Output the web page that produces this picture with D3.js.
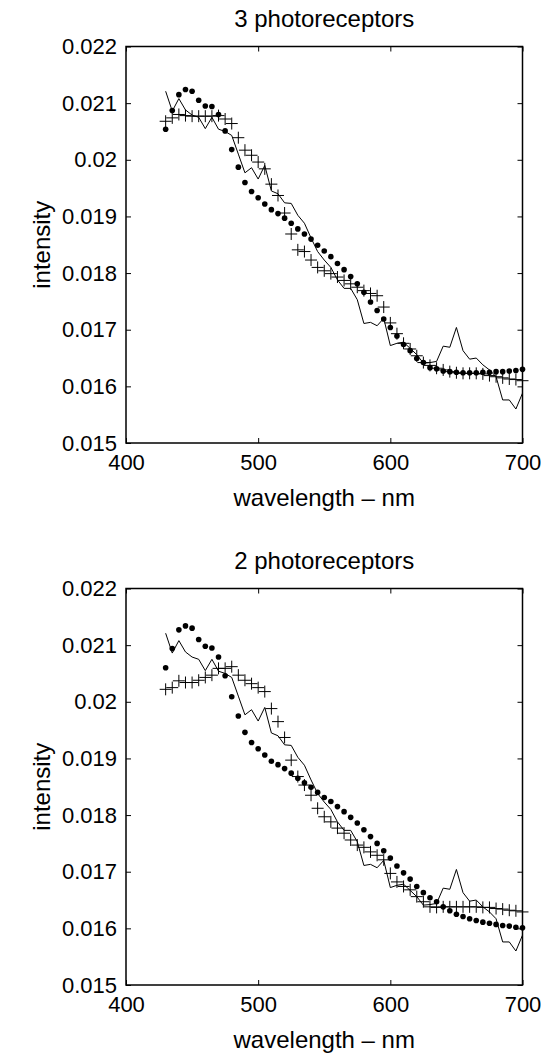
<!DOCTYPE html>
<html>
<head>
<meta charset="utf-8">
<script src="https://cdn.jsdelivr.net/npm/d3@7"></script>
<style>
  body { margin: 0; background: #fff; }
  svg text { font-family: "Liberation Sans", Arial, Helvetica, sans-serif; fill: #000; }
</style>
</head>
<body>
<div id="chart"></div>
<script>
// wavelength samples (nm)
const wavelengths = [430, 435, 440, 445, 450, 455, 460, 465, 470, 475,
  480, 485, 490, 495, 500, 505, 510, 515, 520, 525,
  530, 535, 540, 545, 550, 555, 560, 565, 570, 575,
  580, 585, 590, 595, 600, 605, 610, 615, 620, 625,
  630, 635, 640, 645, 650, 655, 660, 665, 670, 675,
  680, 685, 690, 695, 700];

// solid line: measured spectrum (same in both panels)
const measured = [0.02121, 0.02086, 0.02108, 0.02088, 0.02079, 0.02075, 0.02055, 0.02075, 0.02054, 0.0205,
  0.02043, 0.0201, 0.01977, 0.01986, 0.01966, 0.0199, 0.01945, 0.0194, 0.01924, 0.01923,
  0.01902, 0.01888, 0.01862, 0.01838, 0.01823, 0.0181, 0.01788, 0.01773, 0.01773, 0.01753,
  0.01711, 0.01713, 0.01707, 0.0172, 0.01672, 0.01676, 0.01678, 0.01667, 0.01656, 0.01641,
  0.01642, 0.01644, 0.01671, 0.01669, 0.01704, 0.01663, 0.01648, 0.0165, 0.01638, 0.01629,
  0.01617, 0.01576, 0.01576, 0.0156, 0.01588];

// 3 photoreceptors
const dots3 = [0.02054, 0.02087, 0.02115, 0.02124, 0.02121, 0.02105, 0.02095, 0.02094, 0.0208, 0.02051,
  0.02018, 0.01987, 0.0196, 0.01944, 0.01933, 0.01922, 0.01912, 0.01905, 0.01897, 0.01888,
  0.01878, 0.01869, 0.0186, 0.01849, 0.01839, 0.01829, 0.01817, 0.01806, 0.01794, 0.01781,
  0.01766, 0.01749, 0.01734, 0.01719, 0.01704, 0.01689, 0.01674, 0.01663, 0.01649, 0.01642,
  0.01633, 0.01631, 0.01627, 0.01626, 0.01625, 0.01624, 0.01624, 0.01624, 0.01625, 0.01625,
  0.01626, 0.01626, 0.01627, 0.01628, 0.0163];
const plus3 = [0.02068, 0.02074, 0.0208, 0.02078, 0.02077, 0.02077, 0.02077, 0.02077, 0.02078, 0.02072,
  0.02064, 0.02039, 0.02017, 0.02008, 0.01996, 0.01984, 0.01957, 0.01937, 0.01906, 0.01869,
  0.01841, 0.01838, 0.01823, 0.0181, 0.01804, 0.01799, 0.01793, 0.01787, 0.01781, 0.01775,
  0.01769, 0.01764, 0.0176, 0.0174, 0.01712, 0.01693, 0.01676, 0.01666, 0.01654, 0.01642,
  0.01637, 0.01632, 0.01629, 0.01626, 0.01624, 0.01623, 0.01623, 0.01623, 0.01622, 0.01619,
  0.01617, 0.01615, 0.01613, 0.01612, 0.0161];

// 2 photoreceptors
const dots2 = [0.0206, 0.02094, 0.02127, 0.02134, 0.0213, 0.0211, 0.02098, 0.02095, 0.02079, 0.02046,
  0.02009, 0.01975, 0.01946, 0.01928, 0.01917, 0.01906, 0.01895, 0.01889, 0.01882, 0.01874,
  0.01865, 0.01857, 0.01849, 0.0184, 0.01831, 0.01824, 0.01815, 0.01806, 0.01796, 0.01786,
  0.01774, 0.01762, 0.0175, 0.01737, 0.01724, 0.0171, 0.01698, 0.01687, 0.01674, 0.01663,
  0.01654, 0.01647, 0.01638, 0.01631, 0.01625, 0.01621, 0.01617, 0.01614, 0.01611, 0.01609,
  0.01607, 0.01605, 0.01604, 0.01602, 0.01601];
const plus2 = [0.02022, 0.02025, 0.02037, 0.02034, 0.02034, 0.02038, 0.02043, 0.02047, 0.02059, 0.02059,
  0.02062, 0.02047, 0.02038, 0.02032, 0.02025, 0.02018, 0.01988, 0.01965, 0.01937, 0.01897,
  0.01868, 0.01853, 0.01835, 0.01812, 0.01797, 0.01788, 0.01777, 0.01768, 0.01756, 0.01747,
  0.01743, 0.01735, 0.01729, 0.01721, 0.01697, 0.01682, 0.01674, 0.01668, 0.01656, 0.01647,
  0.01638, 0.01637, 0.01638, 0.01638, 0.01638, 0.01638, 0.01638, 0.01638, 0.01637, 0.01637,
  0.01635, 0.01634, 0.01632, 0.01631, 0.01629];

const titles = ["3 photoreceptors", "2 photoreceptors"];
const xTicks = [400, 500, 600, 700];
const yTicks = [0.015, 0.016, 0.017, 0.018, 0.019, 0.02, 0.021, 0.022];
const xLabel = "wavelength \u2013 nm";
const yLabel = "intensity";

// layout
const W = 557, H = 1055;
const left = 126, width = 396.5, height = 396.5;
const panelTops = [46.5, 588.5];

const svg = d3.select("#chart").append("svg")
  .attr("width", W)
  .attr("height", H);

const x = d3.scaleLinear().domain([400, 700]).range([0, width]);
const y = d3.scaleLinear().domain([0.015, 0.022]).range([height, 0]);

const drawPanel = (top, title, dots, plus) => {
  const g = svg.append("g").attr("transform", `translate(${left},${top})`);

  // axes with inward ticks, MATLAB-like box
  const ax = (axis, tx, ty, labels) => {
    const a = g.append("g")
      .attr("transform", `translate(${tx},${ty})`)
      .call(axis);
    a.select(".domain").remove();
    a.selectAll(".tick line").attr("stroke", "#000").attr("stroke-width", 1);
    if (!labels) a.selectAll(".tick text").remove();
    return a;
  };
  const bottom = ax(d3.axisBottom(x).tickValues(xTicks).tickSize(-5).tickPadding(11), 0, height, true);
  bottom.selectAll(".tick text").attr("font-size", 22).attr("dy", "0.71em");
  ax(d3.axisTop(x).tickValues(xTicks).tickSize(-5), 0, 0, false);
  const leftAx = ax(d3.axisLeft(y).tickValues(yTicks).tickFormat((d) => String(d)).tickSize(-5).tickPadding(9), 0, 0, true);
  leftAx.selectAll(".tick text").attr("font-size", 22);
  ax(d3.axisRight(y).tickValues(yTicks).tickSize(-5), width, 0, false);

  g.append("rect")
    .attr("width", width)
    .attr("height", height)
    .attr("fill", "none")
    .attr("stroke", "#000")
    .attr("stroke-width", 1.5);

  // measured spectrum
  g.append("path")
    .datum(measured)
    .attr("fill", "none")
    .attr("stroke", "#000")
    .attr("stroke-width", 1)
    .attr("d", d3.line().x((d, i) => x(wavelengths[i])).y((d) => y(d)));

  // dot estimates
  g.selectAll("circle")
    .data(dots)
    .join("circle")
    .attr("cx", (d, i) => x(wavelengths[i]))
    .attr("cy", (d) => y(d))
    .attr("r", 2.8)
    .attr("fill", "#000");

  // plus estimates
  g.selectAll("path.plus")
    .data(plus)
    .join("path")
    .attr("class", "plus")
    .attr("transform", (d, i) => `translate(${x(wavelengths[i])},${y(d)})`)
    .attr("d", "M-6,0H6M0,-6V6")
    .attr("stroke", "#000")
    .attr("stroke-width", 1)
    .attr("fill", "none");

  // texts
  g.append("text")
    .attr("x", width / 2)
    .attr("y", -20)
    .attr("text-anchor", "middle")
    .attr("font-size", 24)
    .text(title);
  g.append("text")
    .attr("x", width / 2)
    .attr("y", height + 63)
    .attr("text-anchor", "middle")
    .attr("font-size", 24)
    .text(xLabel);
  g.append("text")
    .attr("transform", `translate(${-76},${height / 2}) rotate(-90)`)
    .attr("text-anchor", "middle")
    .attr("font-size", 24)
    .text(yLabel);
};

drawPanel(panelTops[0], titles[0], dots3, plus3);
drawPanel(panelTops[1], titles[1], dots2, plus2);
</script>
</body>
</html>
